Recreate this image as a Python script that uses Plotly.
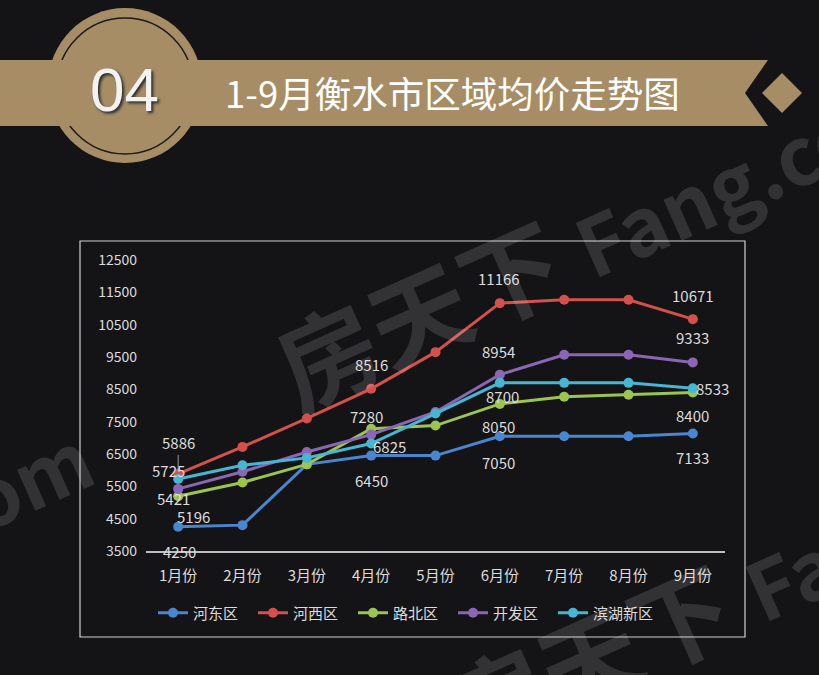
import plotly.graph_objects as go

# ---------------- data ----------------
months = ["1月份", "2月份", "3月份", "4月份", "5月份", "6月份", "7月份", "8月份", "9月份"]
series_names = ["河东区", "河西区", "路北区", "开发区", "滨湖新区"]
hedong = [4250, 4300, 6180, 6450, 6450, 7050, 7050, 7050, 7133]
hexi = [5886, 6720, 7600, 8516, 9650, 11166, 11270, 11270, 10671]
lubei = [5196, 5620, 6180, 7280, 7380, 8050, 8270, 8330, 8400]
kaifa = [5421, 5950, 6560, 7100, 7800, 8954, 9570, 9570, 9333]
binhu = [5725, 6150, 6380, 6825, 7750, 8700, 8700, 8700, 8533]
y_ticks = [3500, 4500, 5500, 6500, 7500, 8500, 9500, 10500, 11500, 12500]
title_text = "1-9月衡水市区域均价走势图"
badge_text = "04"
watermark_cn = "房天下"
watermark_en = "Fang.com"

all_series = [hedong, hexi, lubei, kaifa, binhu]
colors = ["#4a86d0", "#d4504c", "#9cc452", "#8a66b4", "#47b6d3"]

# which points carry a value label: (series, month index)
labelled = [(0, 0), (0, 3), (0, 5), (0, 8),
            (1, 0), (1, 3), (1, 5), (1, 8),
            (2, 0), (2, 3), (2, 5), (2, 8),
            (3, 0), (3, 5), (3, 8),
            (4, 0), (4, 3), (4, 5), (4, 8)]
# label pixel offsets (style only)
label_shift = {
    (0, 0): (1, -25), (0, 3): (0, -25), (0, 5): (-1, -26), (0, 8): (0, -24),
    (1, 3): (0, 24), (1, 5): (-1, 25), (1, 8): (0, 24),
    (2, 0): (15, -20), (2, 3): (-5, 12), (2, 5): (-1, -23), (2, 8): (0, -23),
    (3, 0): (-5, -10), (3, 5): (-1, 23), (3, 8): (0, 25),
    (4, 0): (-10, 9), (4, 3): (18, -3), (4, 5): (3, -14),
}
arrow_labels = {(1, 0): (0, -31), (4, 8): (20, 0)}

# ---------------- geometry helpers (pixel -> paper) ----------------
W, H = 819, 675
L, R, T, B = 146, 94, 260, 124
PW, PH = W - L - R, H - T - B


def px(x):
    return (x - L) / PW


def py(y):
    return (H - B - y) / PH


BG = "#141416"
GOLD = "#a68d66"
TXT = "#dcdcdc"
FONT = "Noto Sans CJK SC"

fig = go.Figure()
for name, vals, col in zip(series_names, all_series, colors):
    fig.add_trace(go.Scatter(
        x=months, y=vals, name=name, mode="lines+markers",
        line=dict(color=col, width=3),
        marker=dict(color=col, size=10),
    ))

annotations = []
for (si, mi) in labelled:
    v = all_series[si][mi]
    if (si, mi) in arrow_labels:
        ax, ay = arrow_labels[(si, mi)]
        annotations.append(dict(
            x=months[mi], y=v, xref="x", yref="y", text=str(v),
            showarrow=True, arrowhead=0, arrowwidth=1, arrowcolor="#9a9a9a",
            ax=ax, ay=ay, standoff=2,
            font=dict(family=FONT, size=15, color=TXT)))
    else:
        dx, dy = label_shift[(si, mi)]
        annotations.append(dict(
            x=months[mi], y=v, xref="x", yref="y", text=str(v),
            showarrow=False, xshift=dx, yshift=dy,
            font=dict(family=FONT, size=15, color=TXT)))

# header texts
annotations.append(dict(
    x=px(124), y=py(89), xref="paper", yref="paper", text=badge_text,
    showarrow=False, xanchor="center", yanchor="middle",
    font=dict(family="Liberation Sans", size=62, color="#f2f2f2",
              shadow="2px 2px 3px #2a2a2a")))
annotations.append(dict(
    x=px(223), y=py(92), xref="paper", yref="paper", text=title_text,
    showarrow=False, xanchor="left", yanchor="middle",
    font=dict(family=FONT, size=36.5, color="#ffffff")))

# faint watermark tiles
wm_html = f"{watermark_cn} <span style='font-size:80px'>{watermark_en}</span>"
for cx, cy in [(602, 228), (772, 572), (-240, 585)]:
    annotations.append(dict(
        x=px(cx), y=py(cy), xref="paper", yref="paper", text=wm_html,
        showarrow=False, textangle=-24, xanchor="center", yanchor="middle",
        font=dict(family=FONT, size=100, color="rgba(255,255,255,0.13)",
                  weight="bold")))

shapes = [
    # gold medallion
    dict(type="circle", xref="paper", yref="paper",
         x0=px(48), x1=px(202), y0=py(163), y1=py(8),
         fillcolor=GOLD, line=dict(width=0), layer="below"),
    dict(type="circle", xref="paper", yref="paper",
         x0=px(57), x1=px(193), y0=py(154), y1=py(18),
         fillcolor="rgba(0,0,0,0)", line=dict(color="#1c1a16", width=1.5),
         layer="below"),
    # ribbon with notched end
    dict(type="path", xref="paper", yref="paper",
         path=(f"M {px(0)},{py(60)} L {px(768)},{py(60)} L {px(745)},{py(93)} "
               f"L {px(768)},{py(126)} L {px(0)},{py(126)} Z"),
         fillcolor=GOLD, line=dict(width=0), layer="below"),
    # diamond
    dict(type="path", xref="paper", yref="paper",
         path=(f"M {px(762)},{py(93)} L {px(782)},{py(73)} L {px(802)},{py(93)} "
               f"L {px(782)},{py(113)} Z"),
         fillcolor=GOLD, line=dict(width=0), layer="below"),
    # chart frame
    dict(type="rect", xref="paper", yref="paper",
         x0=px(80), x1=px(745), y0=py(637), y1=py(241),
         fillcolor="rgba(0,0,0,0)", line=dict(color="#cfcfcf", width=1.2),
         layer="below"),
]

fig.update_layout(
    width=W, height=H,
    margin=dict(l=L, r=R, t=T, b=B, pad=0),
    paper_bgcolor=BG, plot_bgcolor=BG,
    font=dict(family=FONT, color=TXT),
    showlegend=True,
    legend=dict(orientation="h", x=px(403), y=py(613), xanchor="center",
                yanchor="middle", font=dict(family=FONT, size=15, color=TXT),
                bgcolor="rgba(0,0,0,0)", entrywidth=55),
    xaxis=dict(type="category", range=[-0.5, 8.5], showgrid=False,
               zeroline=False, showline=True, linecolor="#bdbdbd", linewidth=2,
               ticks="", tickfont=dict(family=FONT, size=15, color=TXT),
               ticklabelstandoff=10),
    yaxis=dict(range=[3500, 12500], tickvals=y_ticks, tickformat="d",
               showgrid=False, zeroline=False, showline=False, ticks="",
               tickfont=dict(family=FONT, size=14, color=TXT),
               ticklabelstandoff=8),
    annotations=annotations,
    shapes=shapes,
)

fig.write_html(
    "out.html",
    config={"displayModeBar": False},
    post_script=("document.body.style.margin='0';"
                 "document.body.style.backgroundColor='#141416';"),
)
